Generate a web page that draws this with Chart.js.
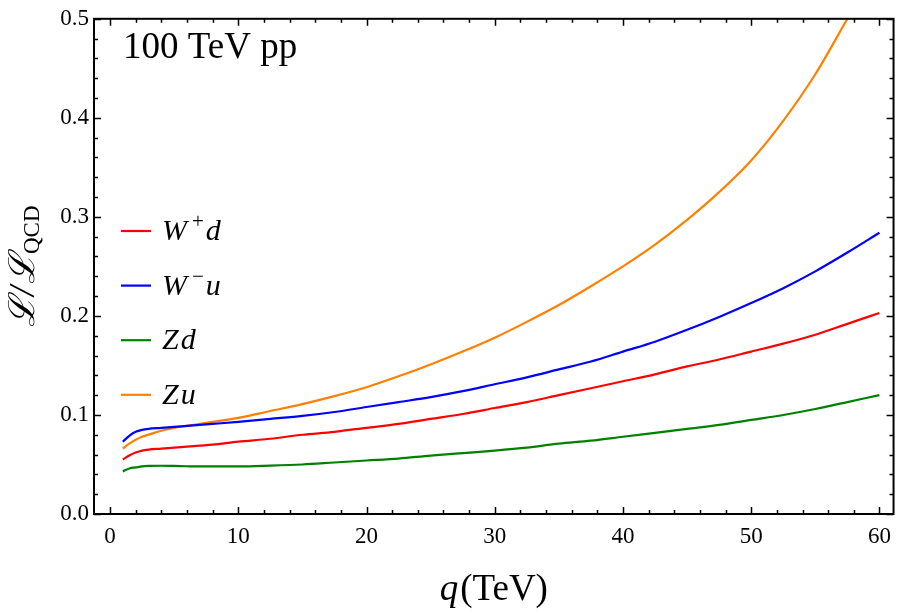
<!DOCTYPE html>
<html>
<head>
<meta charset="utf-8">
<script src="https://cdn.jsdelivr.net/npm/chart.js@4/dist/chart.umd.min.js"></script>
<style>
  html, body { margin: 0; padding: 0; background: #fff; }
  canvas { display: block; }
</style>
</head>
<body>
<canvas id="lumiChart" width="900" height="611"></canvas>
<script>
// q in TeV, ratios
const qValues = [1, 1.5, 2, 2.5, 3, 4, 5, 6, 7, 8, 10, 12.5, 15, 17.5, 20, 22.5, 25, 27.5, 30, 32.5, 35, 37.5, 40, 42.5, 45, 47.5, 50, 52.5, 55, 57.5, 60];

const wPlusD = [0.055, 0.059, 0.062, 0.064, 0.065, 0.066, 0.067, 0.068, 0.069, 0.070, 0.073, 0.076, 0.080, 0.083, 0.087, 0.091, 0.096, 0.101, 0.107, 0.113, 0.120, 0.127, 0.134, 0.141, 0.149, 0.156, 0.164, 0.172, 0.181, 0.192, 0.203];
const wMinusU = [0.073, 0.079, 0.083, 0.085, 0.086, 0.087, 0.088, 0.089, 0.090, 0.091, 0.093, 0.096, 0.099, 0.103, 0.108, 0.113, 0.118, 0.124, 0.131, 0.138, 0.146, 0.154, 0.164, 0.174, 0.186, 0.199, 0.213, 0.228, 0.245, 0.264, 0.284];
const zD = [0.043, 0.046, 0.047, 0.048, 0.0485, 0.0487, 0.0485, 0.0482, 0.048, 0.048, 0.048, 0.0488, 0.050, 0.052, 0.054, 0.056, 0.059, 0.0615, 0.064, 0.067, 0.071, 0.074, 0.078, 0.082, 0.086, 0.090, 0.095, 0.100, 0.106, 0.113, 0.120];
// Zu leaves the frame at q ≈ 57.5, so it has one point fewer
const zU = [0.066, 0.071, 0.075, 0.078, 0.080, 0.084, 0.087, 0.089, 0.091, 0.093, 0.097, 0.104, 0.111, 0.119, 0.128, 0.139, 0.151, 0.164, 0.178, 0.194, 0.211, 0.230, 0.250, 0.272, 0.297, 0.325, 0.357, 0.397, 0.444, 0.500];

const seriesLabels = ['W⁺d', 'W⁻u', 'Zd', 'Zu'];
const seriesColors = ['#ff0000', '#0000ff', '#008000', '#ff8000'];

const xTicks = [0, 10, 20, 30, 40, 50, 60];
const yTicks = [0, 0.1, 0.2, 0.3, 0.4, 0.5];

const SERIF = '"Liberation Serif", "DejaVu Serif", serif';

function toPoints(xs, ys) {
    return ys.map((y, i) => ({ x: xs[i], y: y }));
}

// draw text where ⁺ / ⁻ become raised small signs
function drawRich(ctx, text, x, y, size) {
    let cx = x;
    for (const ch of text) {
        if (ch === '⁺' || ch === '⁻') {
            ctx.font = `${Math.round(size * 0.7)}px ${SERIF}`;
            const s = ch === '⁺' ? '+' : '−';
            ctx.fillText(s, cx + 3, y - size * 0.4);
            cx += ctx.measureText(s).width + 5;
        } else {
            ctx.font = `italic ${size}px ${SERIF}`;
            ctx.fillText(ch, cx, y);
            cx += ctx.measureText(ch).width + 2;
        }
    }
}

const framePlugin = {
    id: 'frame',
    afterDraw(chart) {
        const ctx = chart.ctx;
        const area = chart.chartArea;
        const xs = chart.scales.x;
        const ys = chart.scales.y;
        ctx.save();
        ctx.strokeStyle = '#000';

        // ticks on all four sides, pointing inward
        ctx.lineWidth = 1.5;
        ctx.beginPath();
        for (let v = 0; v <= 60; v += 2) {
            const px = Math.round(xs.getPixelForValue(v)) + 0.5;
            const len = v % 10 === 0 ? 7 : 4;
            ctx.moveTo(px, area.bottom); ctx.lineTo(px, area.bottom - len);
            ctx.moveTo(px, area.top); ctx.lineTo(px, area.top + len);
        }
        for (let i = 0; i <= 25; i++) {
            const v = i * 0.02;
            const py = Math.round(ys.getPixelForValue(v)) + 0.5;
            const len = i % 5 === 0 ? 7 : 4;
            ctx.moveTo(area.left, py); ctx.lineTo(area.left + len, py);
            ctx.moveTo(area.right, py); ctx.lineTo(area.right - len, py);
        }
        ctx.stroke();

        ctx.lineWidth = 2;
        ctx.strokeRect(area.left, area.top, area.right - area.left, area.bottom - area.top);

        ctx.fillStyle = '#000';
        ctx.textBaseline = 'alphabetic';
        ctx.textAlign = 'left';

        // inset label
        ctx.font = `37px ${SERIF}`;
        ctx.fillText('100 TeV pp', 123, 58);

        // legend
        chart.data.datasets.forEach((ds, i) => {
            const ly = 231 + i * 54.6;
            ctx.strokeStyle = ds.borderColor;
            ctx.lineWidth = 2.2;
            ctx.beginPath();
            ctx.moveTo(121, ly); ctx.lineTo(151, ly);
            ctx.stroke();
            ctx.fillStyle = '#000';
            drawRich(ctx, ds.label, 162, ly + 9, 30);
        });

        // x title
        ctx.font = `italic 37px ${SERIF}`;
        const qW = ctx.measureText('q').width;
        ctx.font = `37px ${SERIF}`;
        const restW = ctx.measureText('(TeV)').width;
        const x0 = (area.left + area.right) / 2 - (qW + restW + 2) / 2;
        ctx.font = `italic 37px ${SERIF}`;
        ctx.fillText('q', x0, 600);
        ctx.font = `37px ${SERIF}`;
        ctx.fillText('(TeV)', x0 + qW + 2, 600);

        // y title, rotated
        ctx.translate(0, 327);
        ctx.rotate(-Math.PI / 2);
        ctx.font = `italic 36px ${SERIF}`;
        let cx = 0;
        ctx.fillText('ℒ', cx, 34);
        cx += ctx.measureText('ℒ').width + 1;
        ctx.fillText('/', cx, 34);
        cx += ctx.measureText('/').width + 2;
        ctx.fillText('ℒ', cx, 34);
        cx += ctx.measureText('ℒ').width;
        ctx.font = `23px ${SERIF}`;
        ctx.fillText('QCD', cx, 39);
        ctx.restore();
    }
};

const ctx = document.getElementById('lumiChart').getContext('2d');
new Chart(ctx, {
    type: 'line',
    data: {
        datasets: [
            { label: seriesLabels[0], data: toPoints(qValues, wPlusD), borderColor: seriesColors[0] },
            { label: seriesLabels[1], data: toPoints(qValues, wMinusU), borderColor: seriesColors[1] },
            { label: seriesLabels[2], data: toPoints(qValues, zD), borderColor: seriesColors[2] },
            { label: seriesLabels[3], data: toPoints(qValues, zU), borderColor: seriesColors[3] }
        ]
    },
    options: {
        responsive: false,
        animation: false,
        layout: { padding: { left: 0, right: 3, top: 14, bottom: 0 } },
        elements: {
            point: { radius: 0 },
            line: { borderWidth: 2.2, cubicInterpolationMode: 'monotone', fill: false }
        },
        plugins: {
            legend: { display: false },
            tooltip: { enabled: false }
        },
        scales: {
            x: {
                type: 'linear',
                min: -1.25,
                max: 61.1,
                grid: { display: false, drawTicks: false },
                border: { display: false },
                afterBuildTicks: scale => { scale.ticks = xTicks.map(v => ({ value: v })); },
                afterFit: scale => { scale.height = 97; },
                ticks: {
                    padding: 9,
                    color: '#000',
                    font: { family: SERIF, size: 23 },
                    callback: v => String(v)
                }
            },
            y: {
                type: 'linear',
                min: 0,
                max: 0.5,
                grid: { display: false, drawTicks: false },
                border: { display: false },
                afterBuildTicks: scale => { scale.ticks = yTicks.map(v => ({ value: v })); },
                afterFit: scale => { scale.width = 94; },
                ticks: {
                    padding: 5,
                    color: '#000',
                    font: { family: SERIF, size: 23 },
                    callback: v => v.toFixed(1)
                }
            }
        }
    },
    plugins: [framePlugin]
});
</script>
</body>
</html>
